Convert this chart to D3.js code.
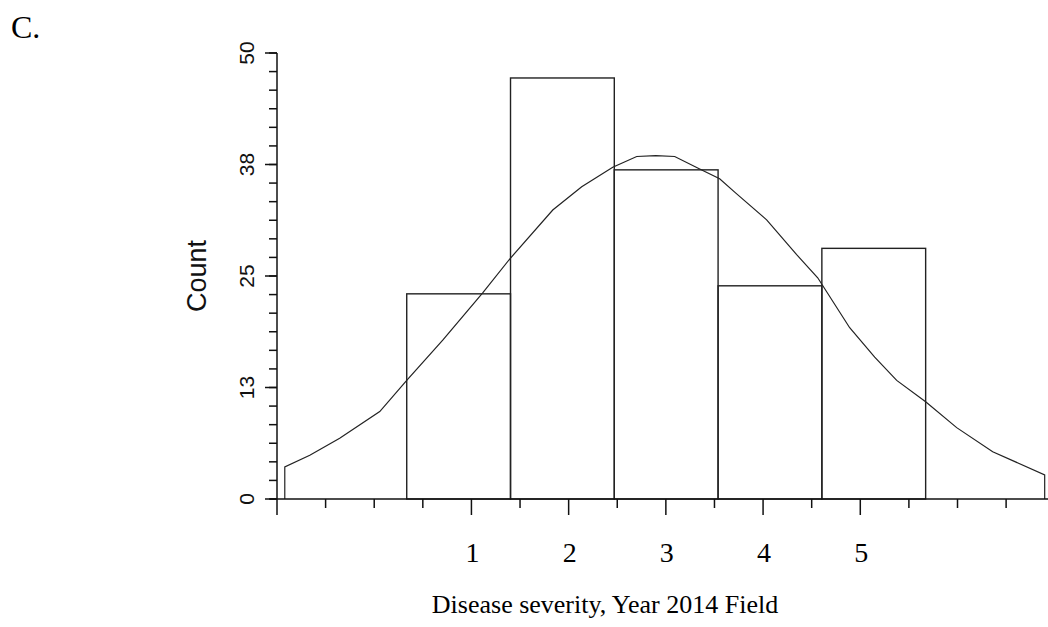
<!DOCTYPE html>
<html>
<head>
<meta charset="utf-8">
<script src="https://cdn.jsdelivr.net/npm/d3@7"></script>
<style>
  body { margin: 0; background: #fff; }
  svg { display: block; }
</style>
</head>
<body>
<div id="chart"></div>
<script>
// severity classes and their counts
const severity = [1, 2, 3, 4, 5];
const counts = [23.0, 47.2, 36.9, 23.9, 28.1];

// fitted normal curve (severity, count)
const curveX = [-0.675, -0.434, -0.146, 0.24, 0.5, 0.847, 1.232, 1.492, 1.907, 2.186, 2.485, 2.716, 2.899, 3.082, 3.323, 3.515, 3.66, 3.968, 4.257, 4.46, 4.768, 5.009, 5.221, 5.5, 5.799, 6.146, 6.647];
const curveY = [3.6, 4.9, 6.8, 9.8, 13.3, 17.8, 23.1, 26.9, 32.4, 35.0, 37.2, 38.4, 38.5, 38.4, 37.0, 35.9, 34.4, 31.3, 27.4, 24.8, 19.2, 15.9, 13.3, 10.9, 8.0, 5.3, 2.7];

// axis labels
const yTicks = [0, 12.5, 25, 37.5, 50];
const yTickLabels = ["0", "13", "25", "38", "50"];
const xTickLabels = ["1", "2", "3", "4", "5"];

const width = 1048, height = 627;

const svg = d3.select("#chart")
  .append("svg")
    .attr("width", width)
    .attr("height", height);

const plotLeft = 277, plotRight = 1045, plotBase = 499, plotTop = 53;

// x scale for the bars / curve
const x = d3.scaleLinear()
  .domain([-0.75, 6.65])
  .range([plotLeft, plotRight]);

// x scale for the axis ticks
const xTickScale = d3.scaleLinear()
  .domain([-1, 6.9])
  .range([plotLeft, plotRight]);

const y = d3.scaleLinear()
  .domain([0, 50])
  .range([plotBase, plotTop]);

// bars
svg.append("g")
  .selectAll("rect")
  .data(severity)
  .join("rect")
    .attr("x", d => x(d - 0.5))
    .attr("y", (d, i) => y(counts[i]))
    .attr("width", d => x(d + 0.5) - x(d - 0.5))
    .attr("height", (d, i) => y(0) - y(counts[i]))
    .attr("fill", "none")
    .attr("stroke", "#222")
    .attr("stroke-width", 1.4);

// normal curve, with the vertical drops at both ends
const pts = curveX.map((d, i) => [x(d), y(curveY[i])]);
pts.unshift([x(curveX[0]), y(0)]);
pts.push([x(curveX[curveX.length - 1]), y(0)]);
svg.append("path")
  .attr("d", d3.line()(pts))
  .attr("fill", "none")
  .attr("stroke", "#222")
  .attr("stroke-width", 1.2);

// y axis
const minorY = d3.range(0, 50.01, 12.5 / 6);
const yAxis = svg.append("g").attr("transform", `translate(${plotLeft},0)`);
yAxis.append("line")
  .attr("x1", 0).attr("x2", 0)
  .attr("y1", y(50)).attr("y2", plotBase + 16)
  .attr("stroke", "#111").attr("stroke-width", 1.5);
yAxis.selectAll(".minor")
  .data(minorY)
  .join("line")
    .attr("class", "minor")
    .attr("x1", -8).attr("x2", 0)
    .attr("y1", d => y(d)).attr("y2", d => y(d))
    .attr("stroke", "#111").attr("stroke-width", 1.5);
yAxis.selectAll(".major")
  .data(yTicks)
  .join("line")
    .attr("class", "major")
    .attr("x1", -12).attr("x2", 0)
    .attr("y1", d => y(d)).attr("y2", d => y(d))
    .attr("stroke", "#111").attr("stroke-width", 1.5);
yAxis.selectAll("text")
  .data(yTicks)
  .join("text")
    .attr("transform", d => `translate(-23,${y(d)}) rotate(-90)`)
    .attr("text-anchor", "middle")
    .attr("font-family", "Liberation Sans, Arial, sans-serif")
    .attr("font-size", 21)
    .attr("fill", "#111")
    .text((d, i) => yTickLabels[i]);

svg.append("text")
  .attr("transform", `translate(206,${(plotTop + plotBase) / 2}) rotate(-90)`)
  .attr("text-anchor", "middle")
  .attr("font-family", "Liberation Sans, Arial, sans-serif")
  .attr("font-size", 27)
  .attr("fill", "#111")
  .text("Count");

// x axis
const xAxis = svg.append("g").attr("transform", `translate(0,${plotBase})`);
xAxis.append("line")
  .attr("x1", plotLeft - 7).attr("x2", width)
  .attr("y1", 0).attr("y2", 0)
  .attr("stroke", "#111").attr("stroke-width", 1.5);
xAxis.selectAll(".tick")
  .data(d3.range(-0.5, 6.6, 0.5))
  .join("line")
    .attr("class", "tick")
    .attr("x1", d => xTickScale(d)).attr("x2", d => xTickScale(d))
    .attr("y1", 0).attr("y2", d => Number.isInteger(d) && d >= 1 && d <= 5 ? 16 : 9)
    .attr("stroke", "#111").attr("stroke-width", 1.5);
xAxis.selectAll("text")
  .data(xTickLabels)
  .join("text")
    .attr("x", d => xTickScale(+d) + 1)
    .attr("y", 63)
    .attr("text-anchor", "middle")
    .attr("font-family", "Liberation Serif, Times New Roman, serif")
    .attr("font-size", 28)
    .attr("fill", "#000")
    .text(d => d);

svg.append("text")
  .attr("x", 605)
  .attr("y", 613)
  .attr("text-anchor", "middle")
  .attr("font-family", "Liberation Serif, Times New Roman, serif")
  .attr("font-size", 26)
  .attr("fill", "#000")
  .text("Disease severity, Year 2014 Field");

svg.append("text")
  .attr("x", 11)
  .attr("y", 38)
  .attr("font-family", "Liberation Serif, Times New Roman, serif")
  .attr("font-size", 32)
  .attr("fill", "#000")
  .text("C.");
</script>
</body>
</html>
